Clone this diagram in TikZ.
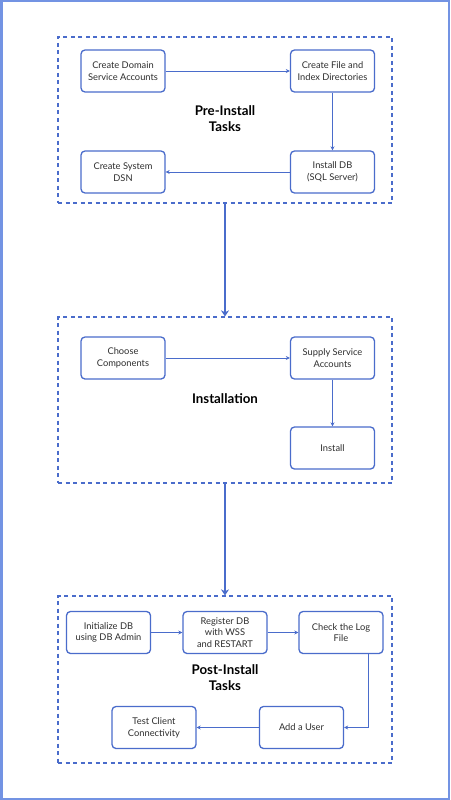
\documentclass[tikz,border=0pt]{standalone}
\usepackage{fontspec}
\setmainfont{Lato}
\usetikzlibrary{arrows.meta}
\definecolor{frameblue}{HTML}{7393E3}
\definecolor{lineblue}{HTML}{4A6CCB}
\definecolor{txt}{HTML}{2E2E2E}
\tikzset{
  stepbox/.style={draw=lineblue, line width=1.3pt, rounded corners=4pt, minimum width=84pt, minimum height=42pt, align=center, font=\fontsize{9.3}{11.8}\selectfont, text=txt, inner sep=1pt},
  groupbox/.style={draw=lineblue, line width=1.2pt, dash pattern=on 4pt off 3.5pt},
  flow/.style={draw=lineblue, line width=1pt, -{Stealth[length=4pt,width=4pt]}},
  bigflow/.style={draw=lineblue, line width=2.6pt, -{Stealth[length=6pt,width=8pt]}},
  grouplabel/.style={font=\bfseries\fontsize{13.3}{16}\selectfont, align=center, text=black}
}
\begin{document}
\begin{tikzpicture}[x=1pt,y=-1pt]
\useasboundingbox (0,0) rectangle (450,800);
\fill[white] (0,0) rectangle (450,800);
\draw[frameblue, line width=2.5pt] (1.25,1.25) rectangle (448.75,798.75);
% group boxes
\node[groupbox, minimum width=334pt, minimum height=166pt, inner sep=0pt] (pre) at (225,120) {};
\node[groupbox, minimum width=334pt, minimum height=166pt, inner sep=0pt] (inst) at (225,400) {};
\node[groupbox, minimum width=334pt, minimum height=167pt, inner sep=0pt] (post) at (225,679.5) {};
% pre-install
\node[stepbox] (cda) at (123,71) {Create Domain\\Service Accounts};
\node[stepbox] (cfi) at (332.5,71) {Create File and\\Index Directories};
\node[stepbox] (idb) at (332.5,172) {Install DB\\(SQL Server)};
\node[stepbox] (dsn) at (123,172) {Create System\\DSN};
\node[grouplabel] (prel) at (225,119) {Pre-Install\\Tasks};
\draw[flow] (cda) -- (cfi);
\draw[flow] (cfi) -- (idb);
\draw[flow] (idb) -- (dsn);
% installation
\node[stepbox] (cc) at (123,358) {Choose\\Components};
\node[stepbox] (ssa) at (332.5,358) {Supply Service\\Accounts};
\node[stepbox] (ins) at (332.5,448) {Install};
\node[grouplabel] (instl) at (225,399) {Installation};
\draw[flow] (cc) -- (ssa);
\draw[flow] (ssa) -- (ins);
% post-install
\node[stepbox] (idba) at (108.5,632.5) {Initialize DB\\using DB Admin};
\node[stepbox] (reg) at (225,632.5) {Register DB\\with WSS\\and RESTART};
\node[stepbox] (log) at (341,632.5) {Check the Log\\File};
\node[stepbox] (usr) at (301.5,727.5) {Add a User};
\node[stepbox] (tcc) at (154,727.5) {Test Client\\Connectivity};
\node[grouplabel] (postl) at (225,678) {Post-Install\\Tasks};
\draw[flow] (idba) -- (reg);
\draw[flow] (reg) -- (log);
\draw[flow] (log.south -| 368,0) |- (usr.east);
\draw[flow] (usr) -- (tcc);
% big arrows
\draw[bigflow] (pre.south) -- (inst.north);
\draw[bigflow] (inst.south) -- (post.north);
\end{tikzpicture}
\end{document}
